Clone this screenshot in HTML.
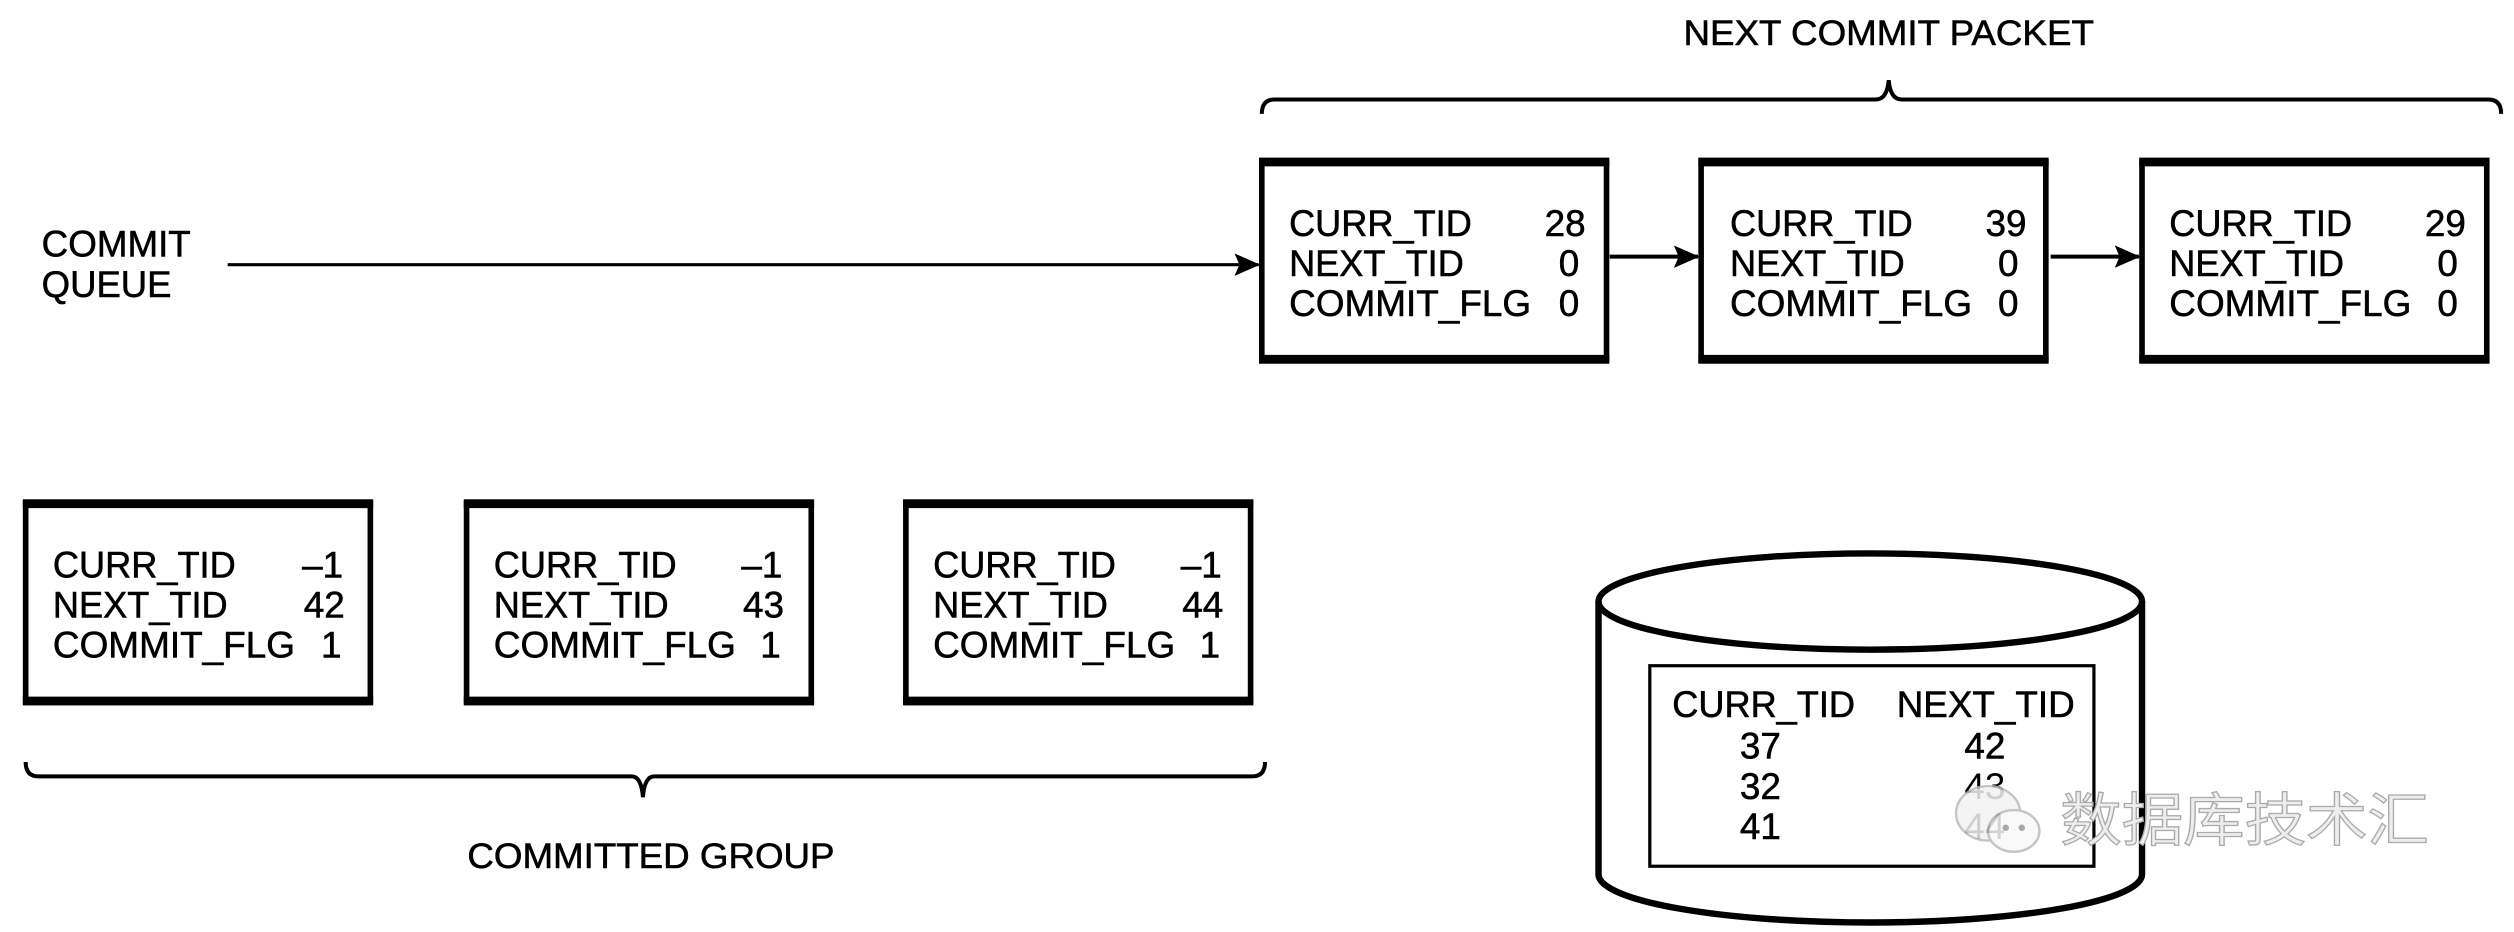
<!DOCTYPE html>
<html><head><meta charset="utf-8"><style>
html,body{margin:0;padding:0;background:#fff;}
svg{display:block;}
text{font-family:"Liberation Sans","Noto Sans CJK SC",sans-serif;fill:#000;}
</style></head><body>
<svg width="2514" height="932" viewBox="0 0 1568 581" preserveAspectRatio="none" xmlns="http://www.w3.org/2000/svg">
<defs>
<marker id="ah" markerWidth="16" markerHeight="14" refX="15" refY="7" orient="auto" markerUnits="userSpaceOnUse">
<path d="M0,0 L16,7 L0,14 L3,7 Z" fill="#000"/>
</marker>
<g id="box">
<rect x="0" y="0" width="215" height="125" fill="#fff" stroke="#000" stroke-width="3.5"/>
<line x1="-1.75" y1="1.5" x2="216.75" y2="1.5" stroke="#000" stroke-width="4.5"/>
<line x1="-1.75" y1="123.5" x2="216.75" y2="123.5" stroke="#000" stroke-width="4.5"/>
</g>
</defs>

<g stroke="#000" stroke-width="0.35">
<text x="1178" y="28" font-size="22" text-anchor="middle" textLength="256" lengthAdjust="spacingAndGlyphs">NEXT COMMIT PACKET</text>
</g>
<path d="M787,71 Q787,62 795,62 L1170,62 Q1177,62 1178,50 Q1179,62 1186,62 L1552,62 Q1560,62 1560,71" fill="none" stroke="#000" stroke-width="2.5"/>

<g stroke="#000" stroke-width="0.35" font-size="23">
<text x="26" y="160" textLength="93" lengthAdjust="spacingAndGlyphs">COMMIT</text>
<text x="26" y="185" textLength="81" lengthAdjust="spacingAndGlyphs">QUEUE</text>
</g>
<line x1="142" y1="165" x2="785" y2="165" stroke="#000" stroke-width="2" marker-end="url(#ah)"/>
<line x1="1004" y1="160" x2="1059" y2="160" stroke="#000" stroke-width="2.5" marker-end="url(#ah)"/>
<line x1="1279" y1="160" x2="1334" y2="160" stroke="#000" stroke-width="2.5" marker-end="url(#ah)"/>

<use href="#box" x="787" y="100"/>
<use href="#box" x="1061" y="100"/>
<use href="#box" x="1336" y="100"/>
<use href="#box" x="16" y="313"/>
<use href="#box" x="291" y="313"/>
<use href="#box" x="565" y="313"/>

<g font-size="23" stroke="#000" stroke-width="0.35">
<text x="804" y="147" textLength="114" lengthAdjust="spacingAndGlyphs">CURR_TID</text>
<text x="989" y="147" text-anchor="end">28</text>
<text x="804" y="172" textLength="109" lengthAdjust="spacingAndGlyphs">NEXT_TID</text>
<text x="985" y="172" text-anchor="end">0</text>
<text x="804" y="197" textLength="151" lengthAdjust="spacingAndGlyphs">COMMIT_FLG</text>
<text x="985" y="197" text-anchor="end">0</text>

<text x="1079" y="147" textLength="114" lengthAdjust="spacingAndGlyphs">CURR_TID</text>
<text x="1264" y="147" text-anchor="end">39</text>
<text x="1079" y="172" textLength="109" lengthAdjust="spacingAndGlyphs">NEXT_TID</text>
<text x="1259" y="172" text-anchor="end">0</text>
<text x="1079" y="197" textLength="151" lengthAdjust="spacingAndGlyphs">COMMIT_FLG</text>
<text x="1259" y="197" text-anchor="end">0</text>

<text x="1353" y="147" textLength="114" lengthAdjust="spacingAndGlyphs">CURR_TID</text>
<text x="1538" y="147" text-anchor="end">29</text>
<text x="1353" y="172" textLength="109" lengthAdjust="spacingAndGlyphs">NEXT_TID</text>
<text x="1533" y="172" text-anchor="end">0</text>
<text x="1353" y="197" textLength="151" lengthAdjust="spacingAndGlyphs">COMMIT_FLG</text>
<text x="1533" y="197" text-anchor="end">0</text>

<text x="33" y="360" textLength="114" lengthAdjust="spacingAndGlyphs">CURR_TID</text>
<text x="214" y="360" text-anchor="end">–1</text>
<text x="33" y="385" textLength="109" lengthAdjust="spacingAndGlyphs">NEXT_TID</text>
<text x="215" y="385" text-anchor="end">42</text>
<text x="33" y="410" textLength="151" lengthAdjust="spacingAndGlyphs">COMMIT_FLG</text>
<text x="213" y="410" text-anchor="end">1</text>

<text x="308" y="360" textLength="114" lengthAdjust="spacingAndGlyphs">CURR_TID</text>
<text x="488" y="360" text-anchor="end">–1</text>
<text x="308" y="385" textLength="109" lengthAdjust="spacingAndGlyphs">NEXT_TID</text>
<text x="489" y="385" text-anchor="end">43</text>
<text x="308" y="410" textLength="151" lengthAdjust="spacingAndGlyphs">COMMIT_FLG</text>
<text x="487" y="410" text-anchor="end">1</text>

<text x="582" y="360" textLength="114" lengthAdjust="spacingAndGlyphs">CURR_TID</text>
<text x="762" y="360" text-anchor="end">–1</text>
<text x="582" y="385" textLength="109" lengthAdjust="spacingAndGlyphs">NEXT_TID</text>
<text x="763" y="385" text-anchor="end">44</text>
<text x="582" y="410" textLength="151" lengthAdjust="spacingAndGlyphs">COMMIT_FLG</text>
<text x="761" y="410" text-anchor="end">1</text>
</g>

<path d="M16,475 Q16,484 24,484 L394,484 Q400,484 401,497 Q402,484 408,484 L781,484 Q789,484 789,475" fill="none" stroke="#000" stroke-width="2.5"/>
<g stroke="#000" stroke-width="0.35">
<text x="406" y="541" font-size="22" text-anchor="middle" textLength="229" lengthAdjust="spacingAndGlyphs">COMMITTED GROUP</text>
</g>

<path d="M997,375 L997,545 A169,30 0 0 0 1336,545 L1336,375" fill="#fff" stroke="#000" stroke-width="4"/>
<ellipse cx="1166.5" cy="375" rx="169.5" ry="30" fill="#fff" stroke="#000" stroke-width="4"/>
<rect x="1029" y="415" width="277" height="125" fill="#fff" stroke="#000" stroke-width="2"/>
<g font-size="23" stroke="#000" stroke-width="0.35">
<text x="1043" y="447" textLength="114" lengthAdjust="spacingAndGlyphs">CURR_TID</text>
<text x="1183" y="447" textLength="111" lengthAdjust="spacingAndGlyphs">NEXT_TID</text>
<text x="1098" y="473" text-anchor="middle">37</text>
<text x="1098" y="498" text-anchor="middle">32</text>
<text x="1098" y="523" text-anchor="middle">41</text>
<text x="1238" y="473" text-anchor="middle">42</text>
</g>
<g font-size="23">
<text x="1238" y="498" text-anchor="middle" fill="#aaa">43</text>
<text x="1238" y="523" text-anchor="middle" fill="#aaa">44</text>
</g>
<g opacity="0.85">
<ellipse cx="1240" cy="507" rx="20" ry="17" fill="#f3f3f3" stroke="#bbb" stroke-width="1.5"/>
<ellipse cx="1256" cy="518" rx="16" ry="13" fill="#f8f8f8" stroke="#bbb" stroke-width="1.5"/>
<circle cx="1251" cy="516" r="2" fill="#999"/><circle cx="1261" cy="516" r="2" fill="#999"/>
</g>
<text x="1285" y="524" font-size="36" stroke="#aaa" stroke-width="0.8" textLength="230" lengthAdjust="spacingAndGlyphs" style="fill:#eee">数据库技术汇</text>
</svg>
</body></html>
